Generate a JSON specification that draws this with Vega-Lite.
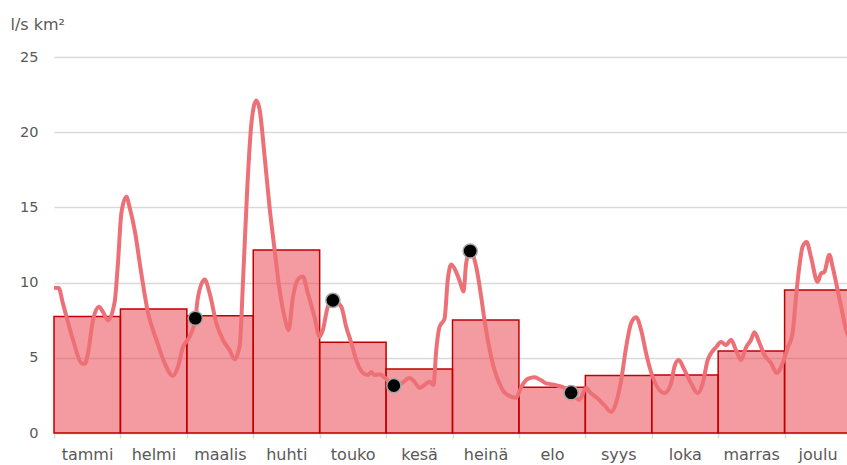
{
  "$schema": "https://vega.github.io/schema/vega-lite/v6.json",
  "autosize": "none",
  "width": 797,
  "height": 376,
  "padding": {"left": 54, "top": 57, "right": 0, "bottom": 32},
  "background": "white",
  "config": {
    "view": {"stroke": null},
    "font": "DejaVu Sans"
  },
  "datasets": {
    "months": [
      {"start": 0, "end": 1, "kk": "tammi", "v": 7.75},
      {"start": 1, "end": 2, "kk": "helmi", "v": 8.25},
      {"start": 2, "end": 3, "kk": "maalis", "v": 7.8},
      {"start": 3, "end": 4, "kk": "huhti", "v": 12.17},
      {"start": 4, "end": 5, "kk": "touko", "v": 6.04},
      {"start": 5, "end": 6, "kk": "kesä", "v": 4.26},
      {"start": 6, "end": 7, "kk": "heinä", "v": 7.51},
      {"start": 7, "end": 8, "kk": "elo", "v": 3.05},
      {"start": 8, "end": 9, "kk": "syys", "v": 3.82},
      {"start": 9, "end": 10, "kk": "loka", "v": 3.86},
      {"start": 10, "end": 11, "kk": "marras", "v": 5.46},
      {"start": 11, "end": 12, "kk": "joulu", "v": 9.51}
    ],
    "daily": [
      {"m": 0, "v": 9.66}, {"m": 0.07, "v": 9.64}, {"m": 0.135, "v": 8.6}, {"m": 0.286, "v": 6.2},
      {"m": 0.412, "v": 4.65}, {"m": 0.462, "v": 4.6}, {"m": 0.512, "v": 5.3}, {"m": 0.587, "v": 7.5},
      {"m": 0.677, "v": 8.4}, {"m": 0.737, "v": 8.05}, {"m": 0.813, "v": 7.5}, {"m": 0.913, "v": 8.7},
      {"m": 0.963, "v": 11.3}, {"m": 1.014, "v": 14.6}, {"m": 1.09, "v": 15.7}, {"m": 1.139, "v": 15.0},
      {"m": 1.214, "v": 13.5}, {"m": 1.315, "v": 10.6}, {"m": 1.415, "v": 8.0}, {"m": 1.541, "v": 6.2},
      {"m": 1.666, "v": 4.65}, {"m": 1.791, "v": 3.8}, {"m": 1.866, "v": 4.4}, {"m": 1.941, "v": 5.7},
      {"m": 2.042, "v": 6.4}, {"m": 2.128, "v": 7.6}, {"m": 2.167, "v": 9.0}, {"m": 2.268, "v": 10.2},
      {"m": 2.343, "v": 9.3}, {"m": 2.444, "v": 7.3}, {"m": 2.543, "v": 6.2}, {"m": 2.644, "v": 5.5},
      {"m": 2.72, "v": 4.9}, {"m": 2.795, "v": 5.8}, {"m": 2.85, "v": 10.5}, {"m": 2.91, "v": 16.3},
      {"m": 2.975, "v": 20.7}, {"m": 3.046, "v": 22.1}, {"m": 3.096, "v": 21.5}, {"m": 3.171, "v": 18.4},
      {"m": 3.246, "v": 15.0}, {"m": 3.321, "v": 12.2}, {"m": 3.397, "v": 9.5}, {"m": 3.472, "v": 7.7},
      {"m": 3.532, "v": 6.85}, {"m": 3.597, "v": 9.0}, {"m": 3.672, "v": 10.2}, {"m": 3.747, "v": 10.4},
      {"m": 3.822, "v": 9.3}, {"m": 3.923, "v": 7.7}, {"m": 3.998, "v": 6.4}, {"m": 4.048, "v": 6.85},
      {"m": 4.123, "v": 8.4}, {"m": 4.199, "v": 8.82}, {"m": 4.325, "v": 8.4}, {"m": 4.4, "v": 7.05},
      {"m": 4.476, "v": 6.0}, {"m": 4.551, "v": 4.85}, {"m": 4.65, "v": 4.0}, {"m": 4.725, "v": 3.85},
      {"m": 4.776, "v": 4.05}, {"m": 4.826, "v": 3.85}, {"m": 4.901, "v": 3.9}, {"m": 4.977, "v": 3.7},
      {"m": 5.117, "v": 3.15}, {"m": 5.228, "v": 3.3}, {"m": 5.353, "v": 3.65}, {"m": 5.428, "v": 3.4},
      {"m": 5.503, "v": 3.0}, {"m": 5.579, "v": 3.2}, {"m": 5.654, "v": 3.4}, {"m": 5.714, "v": 3.2},
      {"m": 5.755, "v": 5.5}, {"m": 5.804, "v": 7.05}, {"m": 5.88, "v": 7.6}, {"m": 5.929, "v": 10.2},
      {"m": 5.981, "v": 11.2}, {"m": 6.056, "v": 10.7}, {"m": 6.116, "v": 10.0}, {"m": 6.166, "v": 9.4},
      {"m": 6.206, "v": 11.3}, {"m": 6.266, "v": 12.1}, {"m": 6.357, "v": 11.05}, {"m": 6.432, "v": 9.05},
      {"m": 6.482, "v": 7.5}, {"m": 6.557, "v": 5.6}, {"m": 6.632, "v": 4.2}, {"m": 6.707, "v": 3.3},
      {"m": 6.782, "v": 2.7}, {"m": 6.959, "v": 2.35}, {"m": 7.034, "v": 3.05}, {"m": 7.133, "v": 3.6},
      {"m": 7.234, "v": 3.7}, {"m": 7.335, "v": 3.5}, {"m": 7.41, "v": 3.3}, {"m": 7.485, "v": 3.25},
      {"m": 7.585, "v": 3.15}, {"m": 7.686, "v": 3.0}, {"m": 7.786, "v": 2.68}, {"m": 7.911, "v": 2.2},
      {"m": 8.012, "v": 3.0}, {"m": 8.061, "v": 2.75}, {"m": 8.187, "v": 2.3}, {"m": 8.287, "v": 1.85},
      {"m": 8.388, "v": 1.4}, {"m": 8.463, "v": 2.0}, {"m": 8.539, "v": 3.5}, {"m": 8.614, "v": 5.7},
      {"m": 8.689, "v": 7.3}, {"m": 8.765, "v": 7.7}, {"m": 8.84, "v": 6.85}, {"m": 8.915, "v": 5.3},
      {"m": 8.966, "v": 4.4}, {"m": 9.191, "v": 2.65}, {"m": 9.292, "v": 3.3}, {"m": 9.341, "v": 4.4},
      {"m": 9.406, "v": 4.85}, {"m": 9.491, "v": 4.2}, {"m": 9.592, "v": 3.3}, {"m": 9.692, "v": 2.65},
      {"m": 9.767, "v": 3.3}, {"m": 9.842, "v": 4.85}, {"m": 9.893, "v": 5.3}, {"m": 9.968, "v": 5.7},
      {"m": 10.044, "v": 6.05}, {"m": 10.119, "v": 5.85}, {"m": 10.194, "v": 6.2}, {"m": 10.269, "v": 5.5},
      {"m": 10.344, "v": 4.85}, {"m": 10.42, "v": 5.7}, {"m": 10.495, "v": 6.2}, {"m": 10.545, "v": 6.7},
      {"m": 10.62, "v": 6.0}, {"m": 10.695, "v": 5.2}, {"m": 10.796, "v": 4.65}, {"m": 10.88, "v": 4.0},
      {"m": 10.971, "v": 4.65}, {"m": 11.046, "v": 5.65}, {"m": 11.121, "v": 6.65}, {"m": 11.172, "v": 9.05},
      {"m": 11.222, "v": 11.05}, {"m": 11.272, "v": 12.4}, {"m": 11.332, "v": 12.7}, {"m": 11.398, "v": 11.7},
      {"m": 11.497, "v": 10.05}, {"m": 11.548, "v": 10.6}, {"m": 11.598, "v": 10.7}, {"m": 11.674, "v": 11.85},
      {"m": 11.723, "v": 11.05}, {"m": 11.799, "v": 9.5}, {"m": 11.87, "v": 8.0}, {"m": 11.925, "v": 6.85},
      {"m": 11.99, "v": 6.3}
    ],
    "dots": [
      {"m": 2.128, "v": 7.63},
      {"m": 4.199, "v": 8.82},
      {"m": 5.117, "v": 3.15},
      {"m": 6.266, "v": 12.1},
      {"m": 7.786, "v": 2.68}
    ]
  },
  "layer": [
    {
      "data": {"name": "months"},
      "mark": {"type": "rect", "fill": "#e84048", "fillOpacity": 0.52, "stroke": "#c00000", "strokeWidth": 1.5},
      "encoding": {
        "x": {
          "field": "start", "type": "quantitative",
          "scale": {"domain": [0, 12], "nice": false, "zero": false},
          "axis": {
            "values": [0, 1, 2, 3, 4, 5, 6, 7, 8, 9, 10, 11],
            "labelExpr": "['tammi','helmi','maalis','huhti','touko','kesä','heinä','elo','syys','loka','marras','joulu'][datum.value]",
            "labelOffset": 33,
            "labelAlign": "center",
            "labelFontSize": 16,
            "labelColor": "#595959",
            "labelPadding": 8,
            "labelFlush": false,
            "labelOverlap": false,
            "grid": false,
            "domainColor": "#d9d9d9",
            "domainWidth": 1.5,
            "tickColor": "#d9d9d9",
            "tickWidth": 1.5,
            "tickSize": 5,
            "title": null
          }
        },
        "x2": {"field": "end"},
        "y": {
          "field": "v", "type": "quantitative",
          "scale": {"domain": [0, 25], "nice": false},
          "axis": {
            "values": [0, 5, 10, 15, 20, 25],
            "domain": false,
            "ticks": false,
            "grid": true,
            "gridColor": "#d9d9d9",
            "gridWidth": 1.5,
            "labelFontSize": 14.5,
            "labelColor": "#595959",
            "labelPadding": 16,
            "title": "l/s km²",
            "titleAngle": 0,
            "titleAlign": "left",
            "titleBaseline": "alphabetic",
            "titleX": -44,
            "titleY": -28,
            "titleFontSize": 16,
            "titleFontWeight": "normal",
            "titleColor": "#595959"
          }
        },
        "y2": {"datum": 0}
      }
    },
    {
      "data": {"name": "daily"},
      "mark": {"type": "line", "color": "#ec7075", "strokeWidth": 4, "interpolate": "monotone", "clip": true},
      "encoding": {
        "x": {"field": "m", "type": "quantitative"},
        "y": {"field": "v", "type": "quantitative"}
      }
    },
    {
      "data": {"name": "dots"},
      "mark": {"type": "point", "filled": true, "fill": "#000000", "fillOpacity": 1, "stroke": "#a6a6a6", "strokeWidth": 1.5, "size": 200, "opacity": 1},
      "encoding": {
        "x": {"field": "m", "type": "quantitative"},
        "y": {"field": "v", "type": "quantitative"}
      }
    }
  ]
}
